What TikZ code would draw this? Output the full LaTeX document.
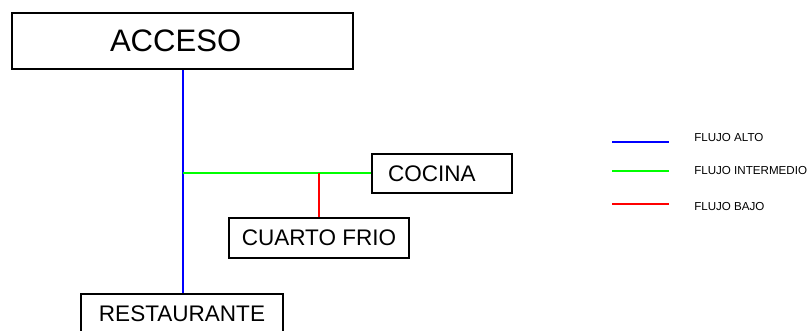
\documentclass[tikz,border=0pt]{standalone}
\usepackage{fontspec}
\setmainfont{Liberation Sans}
\usetikzlibrary{positioning}
\definecolor{flujoalto}{RGB}{0,0,255}
\definecolor{flujomedio}{RGB}{0,255,0}
\definecolor{flujobajo}{RGB}{255,0,0}

\begin{document}
\begin{tikzpicture}[x=0.75pt,y=-0.75pt,
  sala/.style={draw=black,line width=1.5pt,fill=white,inner sep=0pt,
    minimum height=30pt,font=\fontsize{16.9}{18}\selectfont},
  flujo/.style={line width=1.5pt},
  leyenda/.style={anchor=west,inner sep=0pt,font=\fontsize{8.7}{10}\selectfont}]

  \useasboundingbox (0,0) rectangle (811,331);

  % salas
  \node[sala,minimum height=42pt,inner xsep=73.5pt,text width=108.75pt,
    align=left,font=\fontsize{23.3}{26}\selectfont] (acceso) at (182.5,41) {ACCESO};
  \node[sala,inner xsep=12pt,text width=81pt,align=left,
    minimum height=29.25pt] (cocina) at (442,173.5) {COCINA};
  \node[sala,minimum width=135pt] (cuarto) at (319,238) {CUARTO FRIO};
  \node[sala,minimum width=151.5pt] (restaurante) at (182,314) {RESTAURANTE};

  % flujos
  \coordinate (cruce) at (acceso.south |- cocina.west);
  \draw[flujo,flujoalto] (acceso.south) -- (acceso.south |- restaurante.north);
  \draw[flujo,flujomedio] (cruce) -- (cocina.west);
  \draw[flujo,flujobajo] (cuarto.north) -- (cuarto.north |- cocina.west);

  % leyenda
  \foreach \nombre/\col/\texto/\ly/\ty in {alto/flujoalto/FLUJO ALTO/142/137.5,
      medio/flujomedio/FLUJO INTERMEDIO/171/170.5,
      bajo/flujobajo/FLUJO BAJO/204/207} {
    \node[leyenda] (\nombre) at (694,\ty) {\texto};
    \coordinate (\nombre-a) at (612,\ly);
    \coordinate (\nombre-b) at (669,\ly);
    \draw[flujo,\col] (\nombre-a) -- (\nombre-b);
  }

\end{tikzpicture}
\end{document}
